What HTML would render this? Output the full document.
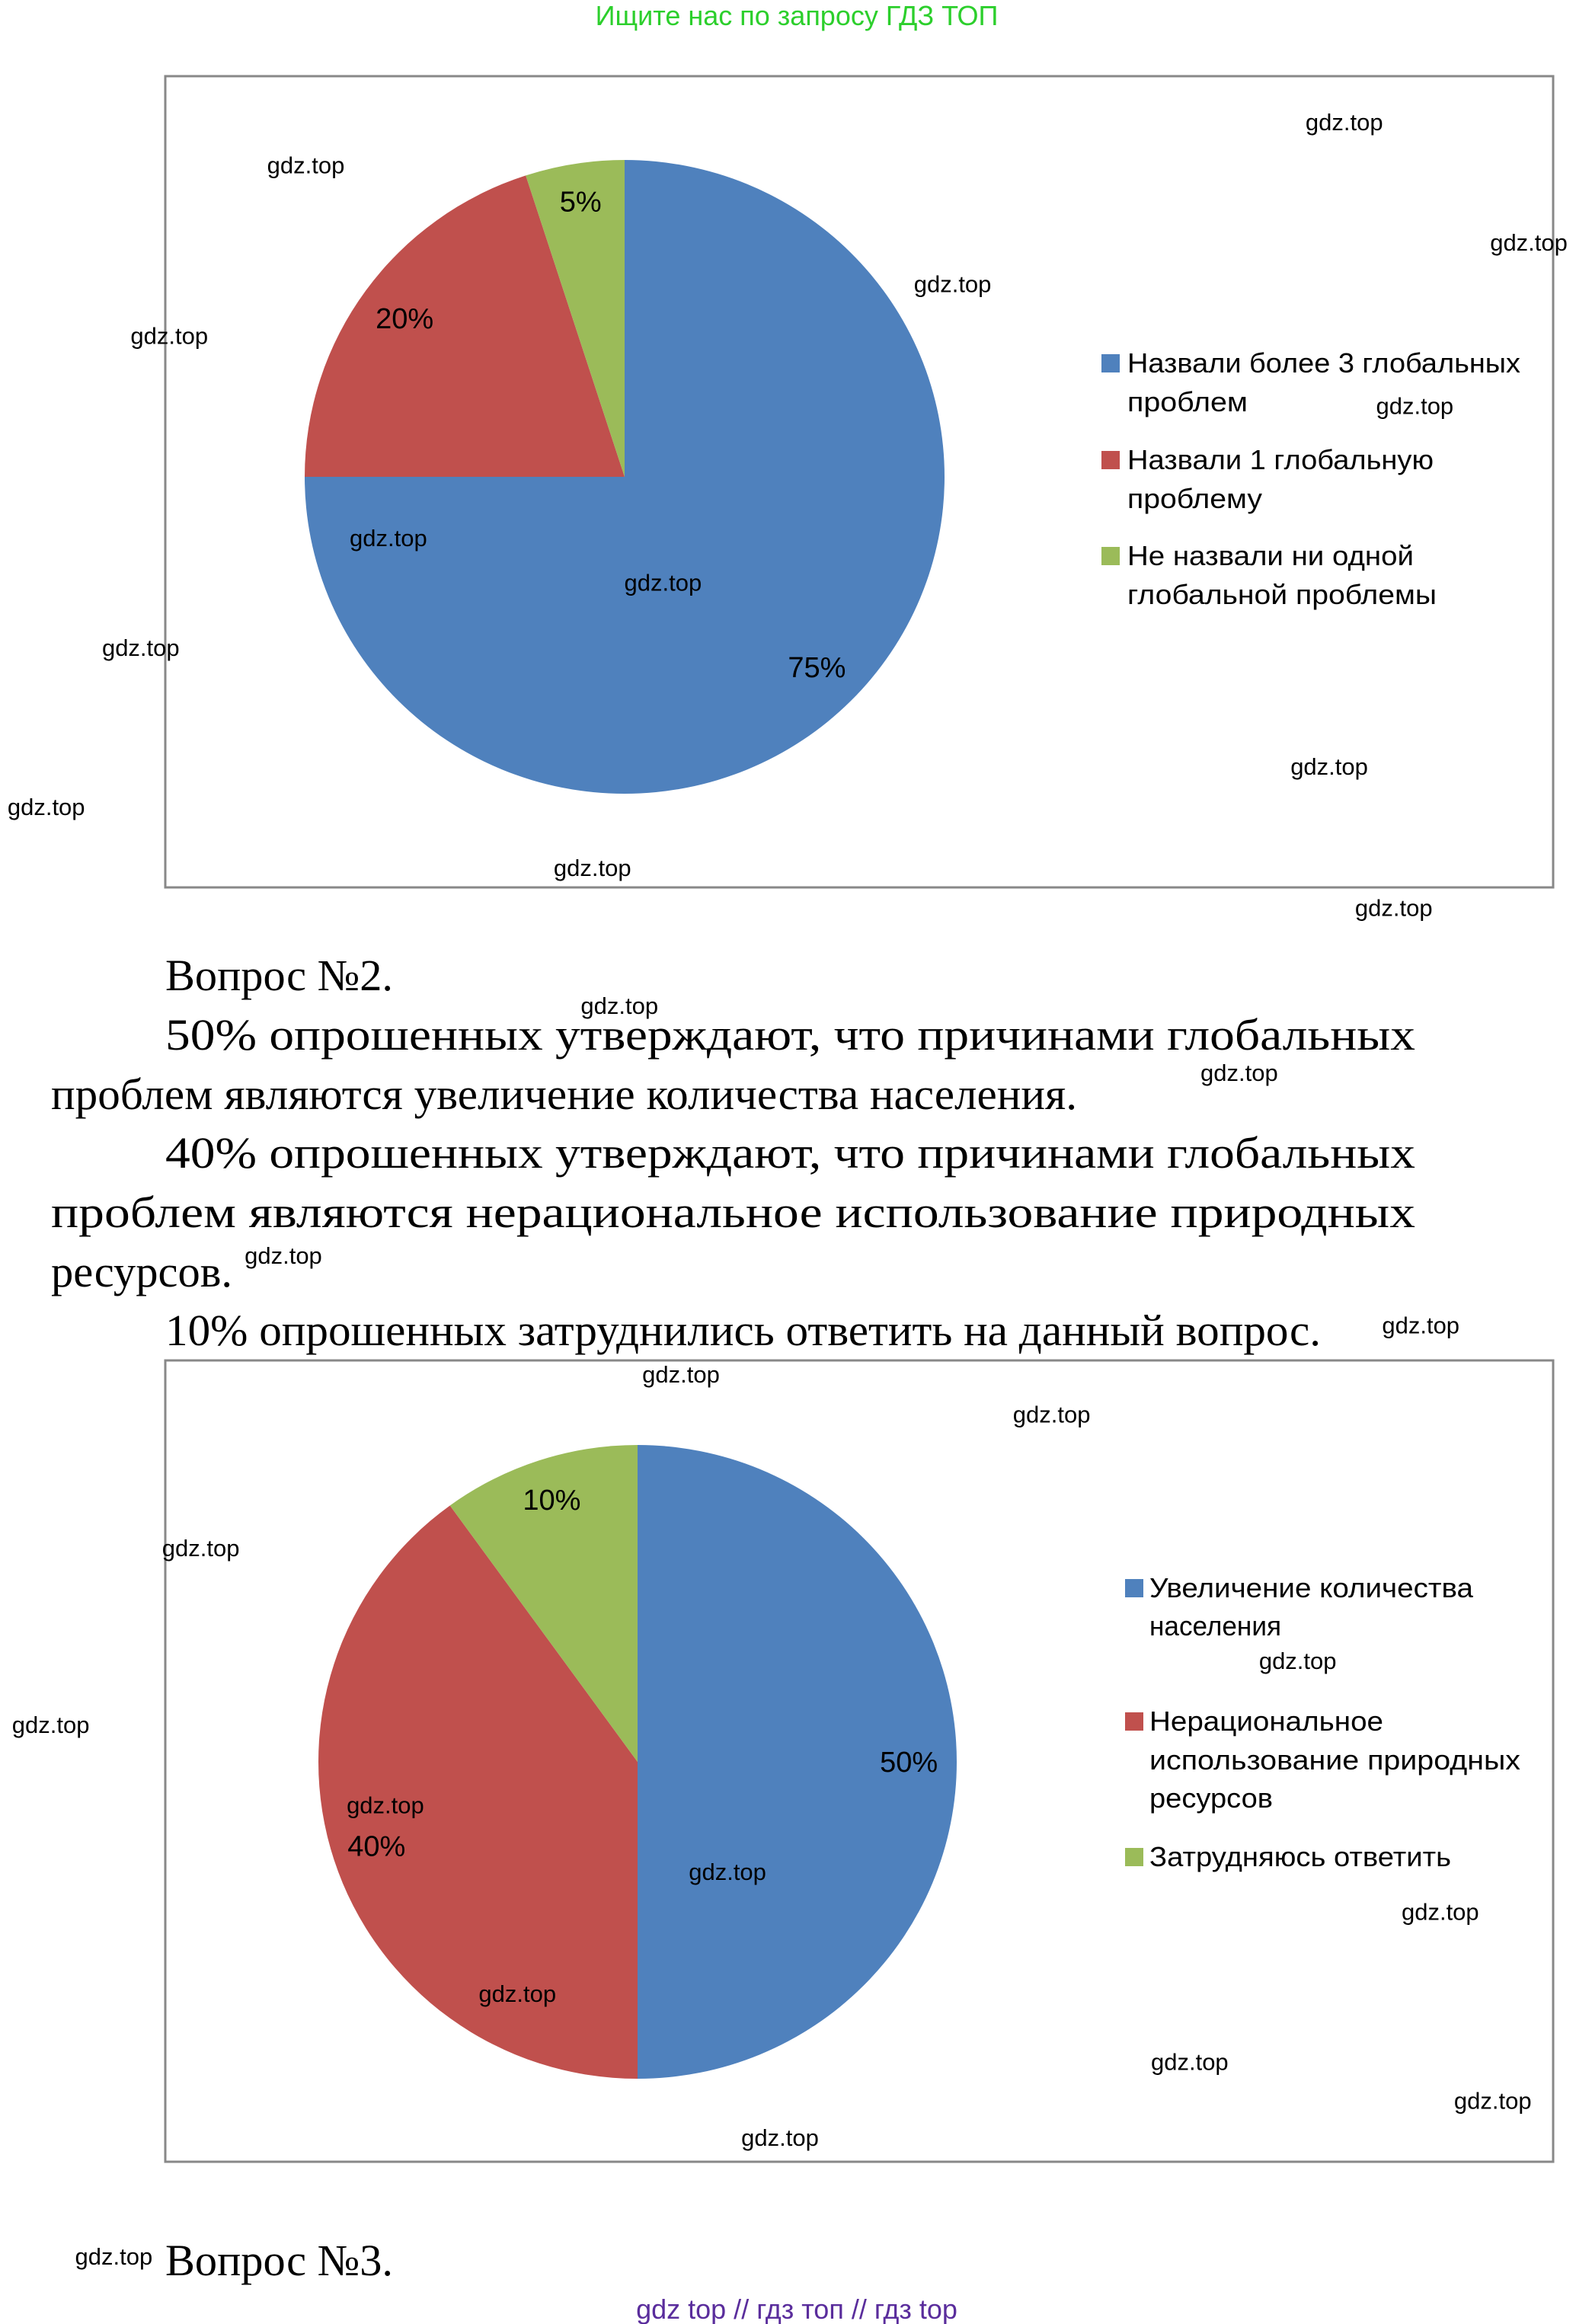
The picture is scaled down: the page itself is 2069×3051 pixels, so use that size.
<!DOCTYPE html>
<html><head><meta charset="utf-8"><style>
html,body{margin:0;padding:0;background:#fff}
svg{display:block}
.wm{font-family:"Liberation Sans",sans-serif;font-size:31px;fill:#000}
.ser{font-family:"Liberation Serif","Noto Serif CJK SC",serif;font-size:58px;fill:#000}
.leg{font-family:"Liberation Sans",sans-serif;font-size:36px;fill:#000}
.lab{font-family:"Liberation Sans",sans-serif;font-size:38px;fill:#000}
</style></head><body>
<svg id="s" width="2069" height="3051" viewBox="0 0 2069 3051" xmlns="http://www.w3.org/2000/svg">
<text x="1046" y="33" text-anchor="middle" font-family="Liberation Sans,sans-serif" font-size="36" fill="#2ccf2c">Ищите нас по запросу ГДЗ ТОП</text>
<rect x="217" y="100" width="1822" height="1065" fill="none" stroke="#888" stroke-width="3"/>
<g id="pie1"></g>
<g>
<rect x="1446" y="465" width="24" height="24" fill="#4f81bd"/>
<text class="leg" x="1480" y="489" textLength="516" lengthAdjust="spacingAndGlyphs">Назвали более 3 глобальных</text>
<text class="leg" x="1480" y="540" textLength="158" lengthAdjust="spacingAndGlyphs">проблем</text>
<rect x="1446" y="592" width="24" height="24" fill="#c0504d"/>
<text class="leg" x="1480" y="616" textLength="402" lengthAdjust="spacingAndGlyphs">Назвали 1 глобальную</text>
<text class="leg" x="1480" y="667" textLength="177" lengthAdjust="spacingAndGlyphs">проблему</text>
<rect x="1446" y="718" width="24" height="24" fill="#9bbb59"/>
<text class="leg" x="1480" y="742" textLength="376" lengthAdjust="spacingAndGlyphs">Не назвали ни одной</text>
<text class="leg" x="1480" y="793" textLength="406" lengthAdjust="spacingAndGlyphs">глобальной проблемы</text>
</g>
<g>
<text class="ser" x="217" y="1300" textLength="299" lengthAdjust="spacingAndGlyphs">Вопрос №2.</text>
<text class="ser" x="217" y="1378" textLength="1641" lengthAdjust="spacingAndGlyphs">50% опрошенных утверждают, что причинами глобальных</text>
<text class="ser" x="67" y="1456" textLength="1347" lengthAdjust="spacingAndGlyphs">проблем являются увеличение количества населения.</text>
<text class="ser" x="217" y="1533" textLength="1641" lengthAdjust="spacingAndGlyphs">40% опрошенных утверждают, что причинами глобальных</text>
<text class="ser" x="67" y="1611" textLength="1791" lengthAdjust="spacingAndGlyphs">проблем являются нерациональное использование природных</text>
<text class="ser" x="67" y="1689" textLength="238" lengthAdjust="spacingAndGlyphs">ресурсов.</text>
<text class="ser" x="217" y="1766" textLength="1517" lengthAdjust="spacingAndGlyphs">10% опрошенных затруднились ответить на данный вопрос.</text>
</g>
<rect x="217" y="1786" width="1822" height="1052" fill="none" stroke="#888" stroke-width="3"/>
<g id="pie2"></g>
<g>
<rect x="1477" y="2073" width="24" height="24" fill="#4f81bd"/>
<text class="leg" x="1509" y="2097" textLength="425" lengthAdjust="spacingAndGlyphs">Увеличение количества</text>
<text class="leg" x="1509" y="2147" textLength="173" lengthAdjust="spacingAndGlyphs">населения</text>
<rect x="1477" y="2248" width="24" height="24" fill="#c0504d"/>
<text class="leg" x="1509" y="2272" textLength="307" lengthAdjust="spacingAndGlyphs">Нерациональное</text>
<text class="leg" x="1509" y="2323" textLength="487" lengthAdjust="spacingAndGlyphs">использование природных</text>
<text class="leg" x="1509" y="2373" textLength="162" lengthAdjust="spacingAndGlyphs">ресурсов</text>
<rect x="1477" y="2426" width="24" height="24" fill="#9bbb59"/>
<text class="leg" x="1509" y="2450" textLength="396" lengthAdjust="spacingAndGlyphs">Затрудняюсь ответить</text>
</g>
<text class="ser" x="217" y="2987" textLength="299" lengthAdjust="spacingAndGlyphs">Вопрос №3.</text>
<text x="1046" y="3044" text-anchor="middle" font-family="Liberation Sans,sans-serif" font-size="36" fill="#5a2d9c">gdz top  //  гдз топ  //  гдз top</text>
<g id="wms"></g>
</svg>
<script>
const pie1Categories = ["Назвали более 3 глобальных проблем","Назвали 1 глобальную проблему","Не назвали ни одной глобальной проблемы"];
const pie1Values = [75, 20, 5];
const pie2Categories = ["Увеличение количества населения","Нерациональное использование природных ресурсов","Затрудняюсь ответить"];
const pie2Values = [50, 40, 10];
const pieColors = ["#4f81bd","#c0504d","#9bbb59"];
const NS="http://www.w3.org/2000/svg";
function drawPie(gid, cats, vals, cx, cy, rx, ry, labelOffsets){
  const g=document.getElementById(gid);
  const total=vals.reduce((a,b)=>a+b,0);
  let a0=0;
  vals.forEach((v,i)=>{
    const a1=a0+v/total*2*Math.PI;
    const x0=cx+rx*Math.sin(a0), y0=cy-ry*Math.cos(a0);
    const x1=cx+rx*Math.sin(a1), y1=cy-ry*Math.cos(a1);
    const large=(a1-a0)>Math.PI?1:0;
    const p=document.createElementNS(NS,'path');
    p.setAttribute('d',`M${cx},${cy} L${x0},${y0} A${rx},${ry} 0 ${large} 1 ${x1},${y1} Z`);
    p.setAttribute('fill',pieColors[i]);
    
    
    g.appendChild(p);
    const am=(a0+a1)/2, f=labelOffsets[i];
    const t=document.createElementNS(NS,'text');
    t.setAttribute('x',cx+rx*f*Math.sin(am));
    t.setAttribute('y',cy-ry*f*Math.cos(am)+13);
    t.setAttribute('text-anchor','middle');
    t.setAttribute('class','lab');
    t.textContent=v+'%';
    
    
    g.appendChild(t);
    a0=a1;
  });
}
drawPie('pie1',pie1Categories,pie1Values,820,626,420,416,[0.85,0.85,0.88]);
drawPie('pie2',pie2Categories,pie2Values,837,2313,419,416,[0.85,0.86,0.87]);
const wm=[[870,82],[178,111],[993,163],[609,191],[87,226],[917,273],[233,362],[416,392],[68,436],[860,516],[5,543],[369,584],[903,611],[387,677],[800,722],[163,845],[921,892],[428,925],[675,952],[108,1042],[8,1161],[839,1118],[231,1215],[459,1260],[934,1287],[319,1342],[767,1388],[969,1414],[494,1439],[50,1519]];
const wg=document.getElementById('wms');
wm.forEach(([x,y])=>{
  const t=document.createElementNS(NS,'text');
  t.setAttribute('x',x*1.97);
  t.setAttribute('y',y*1.95+11);
  t.setAttribute('class','wm');
  t.textContent='gdz.top';
  
  
  wg.appendChild(t);
});
</script>
</body></html>
